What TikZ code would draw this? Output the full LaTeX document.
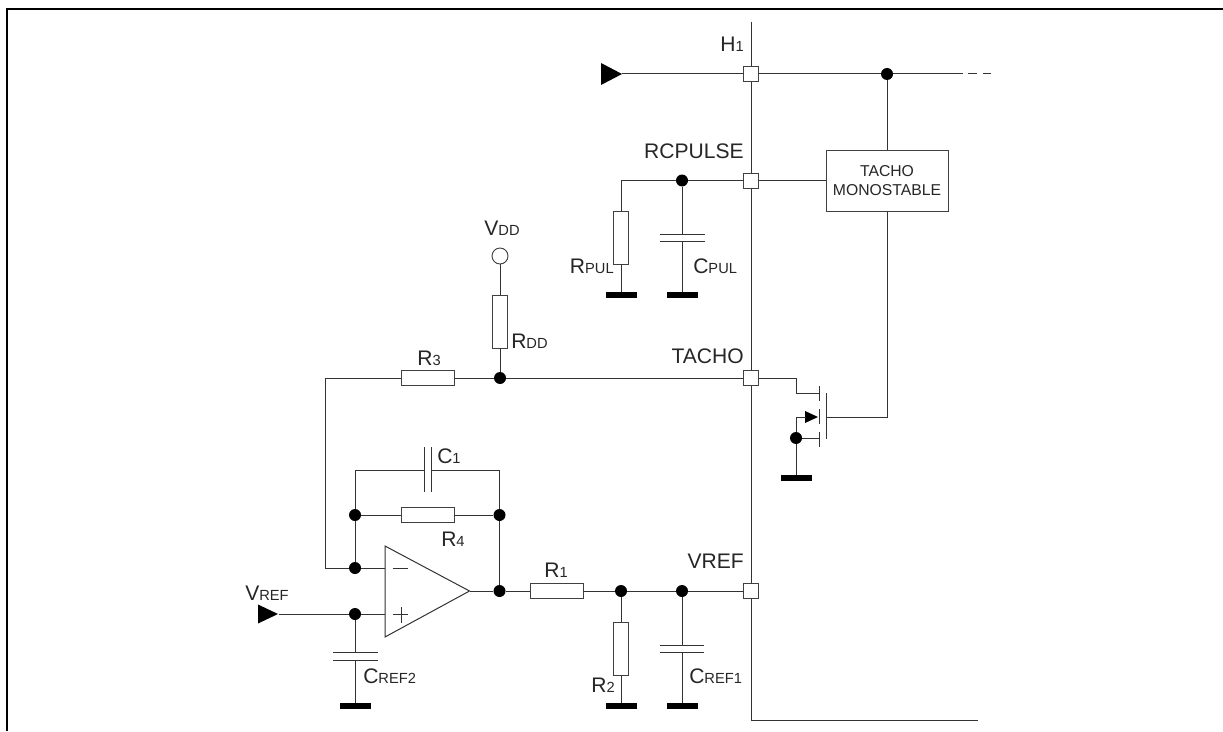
\documentclass[tikz,border=0pt]{standalone}
\usepackage{fontspec}
\setmainfont{Liberation Sans}
\newcommand{\lbl}[2]{#1{\fontsize{11pt}{12pt}\selectfont #2}}
\begin{document}
\begin{tikzpicture}[x=0.75pt,y=-0.75pt,
  wire/.style={draw=black!80,line width=0.75pt},
  part/.style={draw=black!75,fill=white,line width=0.7pt,minimum size=0pt,inner sep=0pt},
  pin/.style={part,minimum width=15*0.75pt,minimum height=15*0.75pt},
  rh/.style={part,minimum width=53*0.75pt,minimum height=15.5*0.75pt},
  rv/.style={part,minimum width=15.5*0.75pt,minimum height=53*0.75pt},
  dot/.style={circle,fill=black,inner sep=0pt,minimum size=12*0.75pt},
  gnd/.style={fill=black,inner sep=0pt,minimum width=31*0.75pt,minimum height=6*0.75pt},
  txt/.style={inner sep=0pt,font=\fontsize{15.8pt}{17pt}\selectfont,text=black!85},
  plate/.style={draw=black!80,line width=0.75pt}]
\useasboundingbox (0,0) rectangle (1223,731);
% frame
\draw[black,line width=1.5pt] (7,731) -- (7,9) -- (1223,9);
% named points
\coordinate (bustop) at (751,22);
\coordinate (buscorner) at (751,720);
\coordinate (busend) at (978,720);
\coordinate (h1end) at (955,74);
\draw[wire] (bustop) -- (buscorner) -- (busend);
% pins
\node[pin] (p1) at (751,74) {};
\node[pin] (p2) at (751,180.5) {};
\node[pin] (p3) at (751,378) {};
\node[pin] (p4) at (751,591) {};
% H1 line
\node[fill=black,inner sep=0pt,minimum size=0pt] (h1in) at (622,74) {};
\fill[black] (601,63) -- (622,74) -- (601,85) -- cycle;
\node[dot] (dh) at (887,74) {};
\draw[wire] (h1in) -- (p1.west);
\draw[wire] (p1.east) -- (dh) -- (h1end);
\coordinate (d1a) at (955,74); \coordinate (d1b) at (963,74);
\coordinate (d2a) at (968,74); \coordinate (d2b) at (977,74);
\coordinate (d3a) at (983,74); \coordinate (d3b) at (991,74);
\draw[wire] (d1a)--(d1b) (d2a)--(d2b) (d3a)--(d3b);
% Monostable
\node[part,minimum width=122*0.75pt,minimum height=61*0.75pt,align=center,font=\fontsize{11.8pt}{13.8pt}\selectfont,text=black!85] (mono) at (887,180.5) {TACHO\\MONOSTABLE};
\draw[wire] (dh) -- (mono.north);
\draw[wire] (p2.east) -- (mono.west);
% RCPULSE
\node[dot] (dr) at (682,180.5) {};
\coordinate (rc) at (621,180.5);
\node[rv] (rpul) at (621,237.5) {};
\node[gnd] (g1) at (621,295) {};
\node[gnd] (g2) at (682,295) {};
\draw[wire] (p2.west) -- (dr) -- (rc) -- (rpul.north);
\draw[wire] (rpul.south) -- (g1);
\coordinate (cpt) at (682,234); \coordinate (cpb) at (682,241);
\draw[wire] (dr) -- (cpt) (cpb) -- (g2);
\draw[plate] (660,234) -- (705,234) (660,241) -- (705,241);
% VDD, TACHO line
\node[circle,part,minimum size=16*0.75pt] (vdd) at (500,256) {};
\node[rv] (rdd) at (500,321.5) {};
\node[dot] (dt) at (500,378) {};
\node[rh] (r3) at (427.5,378) {};
\coordinate (lt) at (325,378);
\coordinate (lb) at (325,568);
\draw[wire] (vdd) -- (rdd) (rdd) -- (dt);
\draw[wire] (p3.west) -- (dt) -- (r3);
\draw[wire] (r3) -- (lt) -- (lb);
% MOSFET
\coordinate (m1) at (796,378);
\coordinate (m2) at (796,393);
\coordinate (m3) at (819,393);
\draw[wire] (p3.east) -- (m1) -- (m2) -- (m3);
\draw[plate] (819,386) -- (819,401) (819,409) -- (819,424) (819,432) -- (819,447);
\draw[plate] (826,393) -- (826,439);
\coordinate (gate) at (826,417);
\coordinate (gc) at (887,417);
\draw[wire] (mono.south) -- (gc) -- (gate);
\fill[black] (805,411) -- (818,417) -- (805,423) -- cycle;
\node[dot] (dm) at (796,438) {};
\coordinate (dtop) at (796,417);
\coordinate (dtri) at (806,417);
\coordinate (sb) at (819,438);
\draw[wire] (dm) -- (dtop) -- (dtri);
\draw[wire] (dm) -- (sb);
\node[gnd] (g3) at (796,478) {};
\draw[wire] (dm) -- (g3);
% opamp
\coordinate (oa) at (385,546);
\coordinate (ob) at (385,637);
\coordinate (oc) at (469.5,591);
\draw[wire,fill=white] (oa) -- (ob) -- (oc) -- cycle;
\draw[plate] (393,568) -- (408,568) (393,614) -- (408,614) (401,607) -- (401,623);
\node[dot] (dm1) at (355,568) {};
\node[dot] (dm2) at (355,515) {};
\node[dot] (dr4) at (499.5,515) {};
\node[dot] (do) at (499.5,591) {};
\node[dot] (dp) at (355,614) {};
\draw[wire] (lb) -- (dm1) -- (385,568);
\draw[wire] (dp) -- (385,614);
\coordinate (tl) at (355,470); \coordinate (tr) at (499.5,470);
\coordinate (c1l) at (424,470); \coordinate (c1r) at (431,470);
\draw[wire] (dm1) -- (dm2) -- (tl) -- (c1l) (c1r) -- (tr) -- (dr4) -- (do) -- (oc);
\draw[plate] (424,447) -- (424,492) (431,447) -- (431,492);
\node[rh] (r4) at (427.5,515) {};
\draw[wire] (dm2) -- (r4) -- (dr4);
% Vref input
\node[inner sep=0pt] (vin) at (278,614) {};
\fill[black] (258,604.5) -- (278,614) -- (258,623.5) -- cycle;
\draw[wire] (vin) -- (dp);
\coordinate (c2t) at (355,652); \coordinate (c2b) at (355,660);
\node[gnd] (g4) at (355,706) {};
\draw[wire] (dp) -- (c2t) (c2b) -- (g4);
\draw[plate] (333,652) -- (378,652) (333,660) -- (378,660);
% output
\node[rh] (r1) at (556.5,591) {};
\node[dot] (d1) at (621,591) {};
\node[dot] (d2) at (682,591) {};
\draw[wire] (do) -- (r1) -- (d1) -- (d2) -- (p4.west);
\node[rv] (r2) at (621,648.5) {};
\node[gnd] (g5) at (621,706) {};
\node[gnd] (g6) at (682,706) {};
\draw[wire] (d1) -- (r2) -- (g5);
\coordinate (c3t) at (682,645); \coordinate (c3b) at (682,652);
\draw[wire] (d2) -- (c3t) (c3b) -- (g6);
\draw[plate] (660,645) -- (704,645) (660,652) -- (704,652);
% labels
\node[txt,anchor=base east] (l1) at (744,52) {\lbl{H}{1}};
\node[txt,anchor=base east] (l2) at (744,159) {RCPULSE};
\node[txt,anchor=base east] (l3) at (744,363) {TACHO};
\node[txt,anchor=base east] (l4) at (744,568) {VREF};
\node[txt,anchor=base] (l5) at (502,235) {\lbl{V}{DD}};
\node[txt,anchor=base west] (l6) at (511,348) {\lbl{R}{DD}};
\node[txt,anchor=base] (l7) at (429,365) {\lbl{R}{3}};
\node[txt,anchor=base west] (l8) at (437,463) {\lbl{C}{1}};
\node[txt,anchor=base west] (l9) at (441,546) {\lbl{R}{4}};
\node[txt,anchor=base] (l10) at (556,577) {\lbl{R}{1}};
\node[txt,anchor=base west] (l11) at (245,600) {\lbl{V}{REF}};
\node[txt,anchor=base west] (l12) at (363,683) {\lbl{C}{REF2}};
\node[txt,anchor=base west] (l13) at (689,683) {\lbl{C}{REF1}};
\node[txt,anchor=base east] (l14) at (615,692) {\lbl{R}{2}};
\node[txt,anchor=base east] (l15) at (614,273) {\lbl{R}{PUL}};
\node[txt,anchor=base west] (l16) at (693,273) {\lbl{C}{PUL}};
\end{tikzpicture}
\end{document}
